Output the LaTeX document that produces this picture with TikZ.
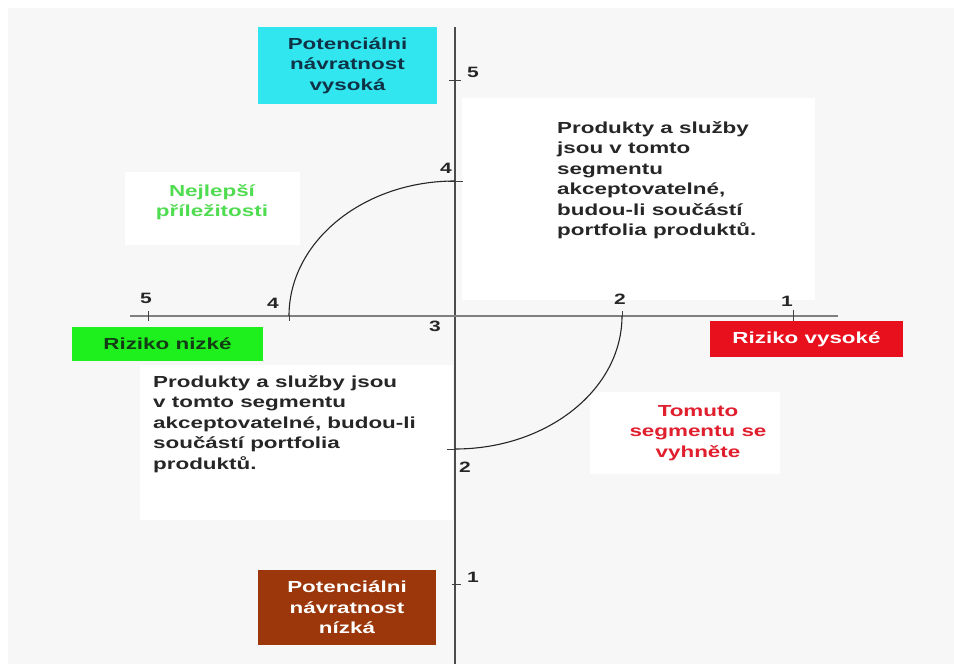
\documentclass[tikz,border=0pt]{standalone}
\usepackage{fontspec}
\setmainfont{Liberation Sans}[FakeStretch=1.4]
\definecolor{bgc}{RGB}{247,247,247}
\definecolor{cyanc}{RGB}{50,230,240}
\definecolor{cyantext}{RGB}{15,50,70}
\definecolor{greenc}{RGB}{30,240,30}
\definecolor{greentext}{RGB}{20,60,20}
\definecolor{redc}{RGB}{232,16,28}
\definecolor{brownc}{RGB}{155,55,10}
\definecolor{besttext}{RGB}{80,220,80}
\definecolor{avoidtext}{RGB}{225,30,45}
\begin{document}
\begin{tikzpicture}[x=1pt,y=-1pt,
  lbl/.style={font=\fontsize{15}{15}\selectfont\bfseries, text=black!85, inner sep=0},
  box/.style={inner sep=0, align=center, font=\fontsize{16}{20.5}\selectfont\bfseries},
  para/.style={inner sep=0, align=left, anchor=north west, font=\fontsize{16}{20.5}\selectfont\bfseries, text=black!85},
  vaxis/.style={line width=1.5pt, draw=black!70},
  haxis/.style={line width=2.2pt, draw=black!50},
  tickm/.style={line width=1pt, draw=black!75},
  curve/.style={line width=1.1pt, draw=black!85},
  patch/.style={fill=white, draw=none}]
\useasboundingbox (0,0) rectangle (954,664);
\fill[white] (0,0) rectangle (954,664);
\fill[bgc] (8,8) rectangle (954,664);
% white patches behind texts
\fill[patch] (462,98) rectangle (815,300);
\fill[patch] (125,172) rectangle (300,245);
\fill[patch] (140,365) rectangle (453,520);
\fill[patch] (590,392) rectangle (780,474);

% axes
\coordinate (vtop) at (455,27);
\coordinate (vbot) at (455,664);
\coordinate (hl) at (130,316);
\coordinate (hr) at (838,316);
\draw[vaxis] (vtop) -- (vbot);
\draw[haxis] (hl) -- (hr);

% ticks
\coordinate (th5) at (148,316);
\coordinate (th4) at (289,316);
\coordinate (th2) at (622,316);
\coordinate (th1) at (793,316);
\coordinate (tv5) at (455,80);
\coordinate (tv4) at (455,181);
\coordinate (tv2) at (455,449);
\coordinate (tv1) at (455,584);
\draw[tickm] (th5) ++(0,-5) -- ++(0,10);
\draw[tickm] (th4) -- ++(0,5);
\draw[tickm] (th2) -- ++(0,-5);
\draw[tickm] (th1) ++(0,-6) -- ++(0,12);
\draw[tickm] (tv5) ++(-6,0) -- ++(12,0);
\draw[tickm] (tv4) ++(-7,0) -- ++(15,0);
\draw[tickm] (tv2) ++(-8,0) -- ++(8,0);
\draw[tickm] (tv1) ++(-3,0) -- ++(9,0);

% arcs
\draw[curve] (th4) arc[start angle=180, end angle=90, x radius=166pt, y radius=135pt];
\draw[curve] (th2) arc[start angle=0, end angle=-90, x radius=167pt, y radius=133pt];

% number labels
\node[lbl] (nh5) at (146,298) {5};
\node[lbl] (nh4) at (273,303) {4};
\node[lbl] (n3) at (435,326) {3};
\node[lbl] (nh2) at (620,299) {2};
\node[lbl] (nh1) at (787,301) {1};
\node[lbl] (nv5) at (473,72) {5};
\node[lbl] (nv4) at (446,168) {4};
\node[lbl] (nv2) at (465,467) {2};
\node[lbl] (nv1) at (473,577) {1};

% coloured boxes
\node[box, fill=cyanc, text=cyantext, minimum width=179pt, minimum height=77pt] (hi) at (347.5,65.5) {Potenciálni\\návratnost\\vysoká};
\node[box, fill=brownc, text=white, minimum width=178pt, minimum height=75pt] (lo) at (347,607.5) {Potenciálni\\návratnost\\nízká};
\node[box, fill=greenc, text=greentext, minimum width=191pt, minimum height=34pt] (rlow) at (167.5,344) {Riziko nizké};
\node[box, fill=redc, text=white, minimum width=193pt, minimum height=36pt] (rhigh) at (806.5,339) {Riziko vysoké};

% texts
\node[para] (tr) at (557,121) {Produkty a služby\\jsou v tomto\\segmentu\\akceptovatelné,\\budou-li součástí\\portfolia produktů.};
\node[para] (bl) at (153,375) {Produkty a služby jsou\\v tomto segmentu\\akceptovatelné, budou-li\\součástí portfolia\\produktů.};
\node[box, text=besttext] (best) at (212,202) {Nejlepší\\příležitosti};
\node[box, text=avoidtext] (avoid) at (698,433) {Tomuto\\segmentu se\\vyhněte};
\end{tikzpicture}
\end{document}
